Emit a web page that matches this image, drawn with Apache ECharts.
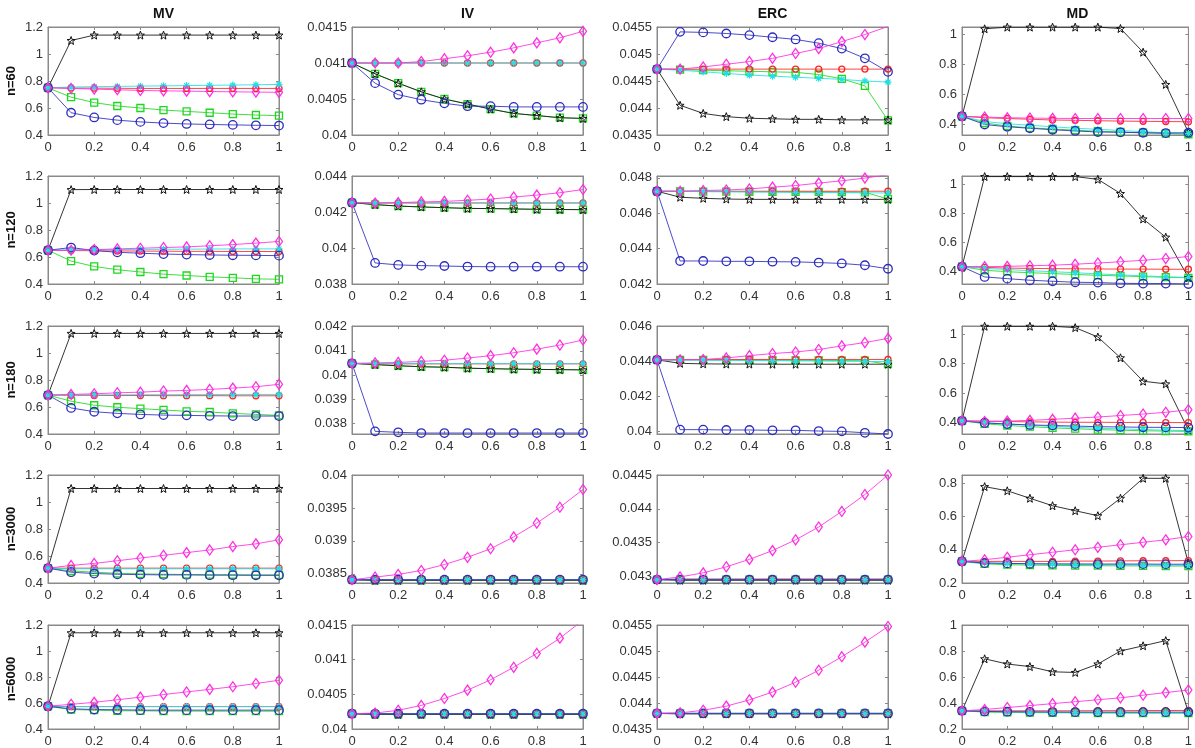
<!DOCTYPE html>
<html><head><meta charset="utf-8">
<script src="https://cdn.jsdelivr.net/npm/echarts@6/dist/echarts.min.js"></script>
<style>html,body{margin:0;padding:0;background:#fff}#c{width:1195px;height:748px}</style>
</head><body><div id="c"></div>
<script>
// ---------- categories ----------
const colNames = ['MV', 'IV', 'ERC', 'MD'];
const rowNames = ['n=60', 'n=120', 'n=180', 'n=3000', 'n=6000'];
const xVals = [0, 0.1, 0.2, 0.3, 0.4, 0.5, 0.6, 0.7, 0.8, 0.9, 1];
const xTicks = [0, 0.2, 0.4, 0.6, 0.8, 1];

// ---------- y ranges and tick labels per panel ----------
const MV_range = [0.4, 1.2];           const MV_ticks = [0.4, 0.6, 0.8, 1, 1.2];
const IV60_range = [0.04, 0.0415];      const IV60_ticks = [0.04, 0.0405, 0.041, 0.0415];
const IV120_range = [0.038, 0.044];     const IV120_ticks = [0.038, 0.04, 0.042, 0.044];
const IV180_range = [0.03755, 0.04203]; const IV180_ticks = [0.038, 0.039, 0.04, 0.041, 0.042];
const IV3000_range = [0.03836, 0.04];   const IV3000_ticks = [0.0385, 0.039, 0.0395, 0.04];
const IV6000_range = [0.04, 0.0415];    const IV6000_ticks = [0.04, 0.0405, 0.041, 0.0415];
const ERC60_range = [0.0435, 0.0455];   const ERC60_ticks = [0.0435, 0.044, 0.0445, 0.045, 0.0455];
const ERC120_range = [0.042, 0.0481];   const ERC120_ticks = [0.042, 0.044, 0.046, 0.048];
const ERC180_range = [0.03985, 0.04604];const ERC180_ticks = [0.04, 0.042, 0.044, 0.046];
const ERC3000_range = [0.0429, 0.0445]; const ERC3000_ticks = [0.043, 0.0435, 0.044, 0.0445];
const ERC6000_range = [0.0435, 0.0455]; const ERC6000_ticks = [0.0435, 0.044, 0.0445, 0.045, 0.0455];
const MD60_range = [0.33, 1.05];        const MD60_ticks = [0.4, 0.6, 0.8, 1];
const MD120_range = [0.31, 1.057];      const MD120_ticks = [0.4, 0.6, 0.8, 1];
const MD180_range = [0.32, 1.057];      const MD180_ticks = [0.4, 0.6, 0.8, 1];
const MD3000_range = [0.2, 0.85];       const MD3000_ticks = [0.2, 0.4, 0.6, 0.8];
const MD6000_range = [0.2, 1.0];        const MD6000_ticks = [0.2, 0.4, 0.6, 0.8, 1];

// ---------- series values (star, blue, green, red, magenta, cyan) ----------
const MV60 = {
  star: [0.75, 1.10, 1.14, 1.14, 1.14, 1.14, 1.14, 1.14, 1.14, 1.14, 1.14],
  blue: [0.75, 0.565, 0.53, 0.51, 0.497, 0.488, 0.482, 0.478, 0.475, 0.472, 0.47],
  green: [0.75, 0.68, 0.64, 0.615, 0.60, 0.585, 0.575, 0.565, 0.555, 0.548, 0.543],
  red: [0.75, 0.748, 0.747, 0.746, 0.745, 0.745, 0.745, 0.745, 0.745, 0.745, 0.745],
  magenta: [0.75, 0.745, 0.74, 0.735, 0.73, 0.727, 0.725, 0.722, 0.72, 0.718, 0.716],
  cyan: [0.75, 0.755, 0.758, 0.76, 0.762, 0.764, 0.766, 0.768, 0.77, 0.772, 0.775]
};
const IV60 = {
  star: [0.041, 0.04085, 0.04072, 0.0406, 0.0405, 0.04043, 0.04036, 0.0403, 0.04027, 0.04024, 0.04023],
  blue: [0.041, 0.04072, 0.04056, 0.04049, 0.04044, 0.0404, 0.0404, 0.04039, 0.04039, 0.04039, 0.04039],
  green: [0.041, 0.04085, 0.04072, 0.0406, 0.0405, 0.04043, 0.04036, 0.0403, 0.04027, 0.04024, 0.04023],
  red: [0.041, 0.041, 0.041, 0.041, 0.041, 0.041, 0.041, 0.041, 0.041, 0.041, 0.041],
  magenta: [0.041, 0.041, 0.041, 0.04102, 0.04106, 0.0411, 0.04115, 0.04121, 0.04128, 0.04135, 0.04144],
  cyan: [0.041, 0.041, 0.041, 0.041, 0.041, 0.041, 0.041, 0.041, 0.041, 0.041, 0.041]
};
const ERC60 = {
  star: [0.04472, 0.04405, 0.0439, 0.04384, 0.04381, 0.0438, 0.04379, 0.04379, 0.04378, 0.04378, 0.04378],
  blue: [0.04472, 0.04541, 0.0454, 0.04538, 0.04535, 0.04531, 0.04527, 0.0452, 0.0451, 0.04492, 0.04467],
  green: [0.04472, 0.04471, 0.0447, 0.04469, 0.04468, 0.04467, 0.04466, 0.04462, 0.04454, 0.04441, 0.04377],
  red: [0.04472, 0.04472, 0.04472, 0.04472, 0.04472, 0.04472, 0.04472, 0.04472, 0.04472, 0.04472, 0.04472],
  magenta: [0.04472, 0.04472, 0.04476, 0.04481, 0.04486, 0.04492, 0.04501, 0.0451, 0.04523, 0.04536, 0.04551],
  cyan: [0.04472, 0.0447, 0.04467, 0.04464, 0.04461, 0.04459, 0.04457, 0.04455, 0.04453, 0.0445, 0.04448]
};
const MD60 = {
  star: [0.455, 1.038, 1.049, 1.049, 1.049, 1.049, 1.049, 1.04, 0.882, 0.667, 0.349],
  blue: [0.455, 0.40, 0.385, 0.375, 0.365, 0.357, 0.35, 0.348, 0.345, 0.343, 0.345],
  green: [0.455, 0.41, 0.39, 0.378, 0.37, 0.362, 0.355, 0.35, 0.345, 0.34, 0.335],
  red: [0.455, 0.445, 0.44, 0.435, 0.43, 0.428, 0.425, 0.423, 0.421, 0.42, 0.418],
  magenta: [0.455, 0.45, 0.445, 0.443, 0.441, 0.44, 0.44, 0.44, 0.44, 0.44, 0.44],
  cyan: [0.455, 0.42, 0.405, 0.395, 0.385, 0.375, 0.368, 0.36, 0.352, 0.345, 0.34]
};
const MV120 = {
  star: [0.65, 1.099, 1.1, 1.1, 1.1, 1.1, 1.1, 1.1, 1.1, 1.1, 1.1],
  blue: [0.65, 0.67, 0.648, 0.635, 0.628, 0.622, 0.618, 0.615, 0.613, 0.612, 0.61],
  green: [0.65, 0.57, 0.53, 0.506, 0.489, 0.473, 0.463, 0.453, 0.446, 0.438, 0.435],
  red: [0.65, 0.648, 0.646, 0.645, 0.644, 0.643, 0.642, 0.642, 0.641, 0.641, 0.64],
  magenta: [0.65, 0.65, 0.655, 0.66, 0.665, 0.67, 0.675, 0.683, 0.692, 0.703, 0.715],
  cyan: [0.65, 0.652, 0.654, 0.655, 0.656, 0.657, 0.658, 0.659, 0.66, 0.66, 0.66]
};
const IV120 = {
  star: [0.04252, 0.04241, 0.04233, 0.04228, 0.04224, 0.0422, 0.04219, 0.04217, 0.04215, 0.04214, 0.04213],
  blue: [0.04252, 0.03917, 0.03906, 0.03902, 0.039, 0.03897, 0.03896, 0.03896, 0.03896, 0.03896, 0.03896],
  green: [0.04252, 0.04241, 0.04233, 0.04228, 0.04224, 0.0422, 0.04219, 0.04217, 0.04215, 0.04214, 0.04213],
  red: [0.04252, 0.0425, 0.0425, 0.0425, 0.0425, 0.0425, 0.0425, 0.0425, 0.0425, 0.0425, 0.0425],
  magenta: [0.04252, 0.0425, 0.04252, 0.04256, 0.04259, 0.04265, 0.04272, 0.04283, 0.04294, 0.04307, 0.04325],
  cyan: [0.04252, 0.04251, 0.04251, 0.04251, 0.04251, 0.04251, 0.04251, 0.04251, 0.04251, 0.04251, 0.04251]
};
const ERC120 = {
  star: [0.04724, 0.0469, 0.04684, 0.0468, 0.04678, 0.04678, 0.04678, 0.04678, 0.04678, 0.04678, 0.04678],
  blue: [0.04724, 0.0433, 0.0433, 0.04328, 0.04328, 0.04326, 0.04325, 0.04321, 0.04316, 0.04306, 0.04286],
  green: [0.04724, 0.04723, 0.04722, 0.04722, 0.04721, 0.04721, 0.0472, 0.0472, 0.04719, 0.04718, 0.0468],
  red: [0.04724, 0.04724, 0.04724, 0.04724, 0.04724, 0.04724, 0.04724, 0.04724, 0.04724, 0.04724, 0.04724],
  magenta: [0.04724, 0.04724, 0.04728, 0.04731, 0.04737, 0.04747, 0.04756, 0.0477, 0.04783, 0.04798, 0.04817],
  cyan: [0.04724, 0.04723, 0.04722, 0.04721, 0.0472, 0.04719, 0.04718, 0.04717, 0.04716, 0.04715, 0.04714]
};
const MD120 = {
  star: [0.43, 1.053, 1.053, 1.053, 1.053, 1.053, 1.034, 0.936, 0.76, 0.634, 0.354],
  blue: [0.43, 0.359, 0.347, 0.336, 0.329, 0.322, 0.32, 0.315, 0.313, 0.313, 0.31],
  green: [0.43, 0.405, 0.395, 0.388, 0.382, 0.376, 0.37, 0.366, 0.361, 0.357, 0.353],
  red: [0.43, 0.425, 0.42, 0.418, 0.416, 0.415, 0.414, 0.413, 0.413, 0.412, 0.412],
  magenta: [0.43, 0.43, 0.432, 0.436, 0.44, 0.447, 0.455, 0.464, 0.474, 0.486, 0.5],
  cyan: [0.43, 0.418, 0.41, 0.402, 0.395, 0.388, 0.38, 0.373, 0.366, 0.36, 0.355]
};
const MV180 = {
  star: [0.688, 1.145, 1.145, 1.145, 1.145, 1.145, 1.145, 1.145, 1.145, 1.145, 1.145],
  blue: [0.688, 0.593, 0.565, 0.553, 0.545, 0.54, 0.538, 0.535, 0.533, 0.533, 0.533],
  green: [0.688, 0.643, 0.613, 0.598, 0.588, 0.578, 0.568, 0.563, 0.553, 0.545, 0.538],
  red: [0.688, 0.687, 0.686, 0.685, 0.685, 0.684, 0.684, 0.684, 0.683, 0.683, 0.683],
  magenta: [0.688, 0.693, 0.698, 0.705, 0.71, 0.718, 0.723, 0.73, 0.74, 0.75, 0.768],
  cyan: [0.688, 0.689, 0.69, 0.69, 0.691, 0.691, 0.692, 0.692, 0.693, 0.693, 0.693]
};
const IV180 = {
  star: [0.04048, 0.04043, 0.04038, 0.04034, 0.04032, 0.04028, 0.04026, 0.04024, 0.04023, 0.04022, 0.04021],
  blue: [0.04048, 0.03766, 0.03762, 0.03759, 0.03759, 0.03759, 0.03759, 0.03759, 0.03759, 0.03759, 0.03759],
  green: [0.04048, 0.04043, 0.04038, 0.04034, 0.04032, 0.04028, 0.04026, 0.04024, 0.04023, 0.04022, 0.04021],
  red: [0.04048, 0.04046, 0.04046, 0.04046, 0.04046, 0.04046, 0.04046, 0.04046, 0.04046, 0.04046, 0.04046],
  magenta: [0.04048, 0.0405, 0.04052, 0.04056, 0.04061, 0.0407, 0.0408, 0.04092, 0.04107, 0.04124, 0.04145],
  cyan: [0.04048, 0.04047, 0.04047, 0.04047, 0.04047, 0.04047, 0.04047, 0.04047, 0.04047, 0.04047, 0.04047]
};
const ERC180 = {
  star: [0.0441, 0.0439, 0.04387, 0.04386, 0.04386, 0.04385, 0.04385, 0.04385, 0.04385, 0.04385, 0.04385],
  blue: [0.0441, 0.0401, 0.0401, 0.04008, 0.04008, 0.04006, 0.04006, 0.04002, 0.04, 0.03992, 0.03985],
  green: [0.0441, 0.0441, 0.04409, 0.04409, 0.04408, 0.04408, 0.04407, 0.04407, 0.04406, 0.04405, 0.04385],
  red: [0.0441, 0.04412, 0.04412, 0.04412, 0.04412, 0.04412, 0.04412, 0.04412, 0.04412, 0.04412, 0.04412],
  magenta: [0.0441, 0.0441, 0.04412, 0.04421, 0.04434, 0.04446, 0.04455, 0.04469, 0.0449, 0.04509, 0.04533],
  cyan: [0.0441, 0.04409, 0.04408, 0.04407, 0.04406, 0.04405, 0.04404, 0.04403, 0.04402, 0.04401, 0.044]
};
const MD180 = {
  star: [0.41, 1.055, 1.055, 1.055, 1.055, 1.046, 0.982, 0.84, 0.68, 0.662, 0.347],
  blue: [0.41, 0.395, 0.388, 0.382, 0.378, 0.374, 0.37, 0.368, 0.366, 0.365, 0.364],
  green: [0.41, 0.39, 0.378, 0.37, 0.362, 0.356, 0.35, 0.346, 0.342, 0.34, 0.338],
  red: [0.41, 0.408, 0.405, 0.403, 0.401, 0.4, 0.4, 0.399, 0.399, 0.398, 0.398],
  magenta: [0.41, 0.405, 0.408, 0.413, 0.42, 0.428, 0.436, 0.446, 0.456, 0.468, 0.485],
  cyan: [0.41, 0.398, 0.388, 0.38, 0.372, 0.365, 0.36, 0.355, 0.35, 0.346, 0.343]
};
const MV3000 = {
  star: [0.51, 1.1, 1.1, 1.1, 1.1, 1.1, 1.1, 1.1, 1.1, 1.1, 1.1],
  blue: [0.51, 0.48, 0.47, 0.465, 0.462, 0.46, 0.46, 0.458, 0.458, 0.457, 0.457],
  green: [0.51, 0.49, 0.48, 0.472, 0.468, 0.465, 0.463, 0.462, 0.461, 0.46, 0.46],
  red: [0.51, 0.51, 0.51, 0.51, 0.51, 0.51, 0.51, 0.51, 0.51, 0.51, 0.51],
  magenta: [0.51, 0.53, 0.545, 0.565, 0.585, 0.605, 0.625, 0.645, 0.67, 0.69, 0.72],
  cyan: [0.51, 0.505, 0.505, 0.505, 0.505, 0.505, 0.505, 0.505, 0.505, 0.505, 0.505]
};
const IV3000 = {
  star: [0.03841, 0.0384, 0.0384, 0.0384, 0.0384, 0.0384, 0.0384, 0.0384, 0.0384, 0.0384, 0.0384],
  blue: [0.03841, 0.03841, 0.03841, 0.03841, 0.03841, 0.03841, 0.03841, 0.03841, 0.03841, 0.03841, 0.03841],
  green: [0.03841, 0.0384, 0.0384, 0.0384, 0.0384, 0.0384, 0.0384, 0.0384, 0.0384, 0.0384, 0.0384],
  red: [0.03841, 0.03841, 0.03841, 0.03841, 0.03841, 0.03841, 0.03841, 0.03841, 0.03841, 0.03841, 0.03841],
  magenta: [0.03841, 0.03845, 0.03849, 0.03855, 0.03864, 0.03875, 0.03888, 0.03906, 0.03927, 0.03951, 0.03978],
  cyan: [0.03841, 0.03841, 0.03841, 0.03841, 0.03841, 0.03841, 0.03841, 0.03841, 0.03841, 0.03841, 0.03841]
};
const ERC3000 = {
  star: [0.04295, 0.04294, 0.04294, 0.04294, 0.04294, 0.04294, 0.04294, 0.04294, 0.04294, 0.04294, 0.04294],
  blue: [0.04295, 0.04295, 0.04295, 0.04295, 0.04295, 0.04295, 0.04295, 0.04295, 0.04295, 0.04295, 0.04295],
  green: [0.04295, 0.04295, 0.04295, 0.04295, 0.04295, 0.04295, 0.04295, 0.04295, 0.04295, 0.04295, 0.04295],
  red: [0.04295, 0.04296, 0.04296, 0.04296, 0.04296, 0.04296, 0.04296, 0.04296, 0.04296, 0.04296, 0.04296],
  magenta: [0.04295, 0.04299, 0.04305, 0.04314, 0.04325, 0.04338, 0.04354, 0.04373, 0.04396, 0.04421, 0.0445],
  cyan: [0.04295, 0.04295, 0.04295, 0.04295, 0.04295, 0.04295, 0.04295, 0.04295, 0.04295, 0.04295, 0.04295]
};
const MD3000 = {
  star: [0.33, 0.78, 0.755, 0.71, 0.665, 0.635, 0.605, 0.71, 0.83, 0.83, 0.32],
  blue: [0.33, 0.32, 0.318, 0.316, 0.315, 0.315, 0.314, 0.314, 0.314, 0.313, 0.313],
  green: [0.33, 0.315, 0.31, 0.308, 0.306, 0.305, 0.304, 0.303, 0.303, 0.302, 0.302],
  red: [0.33, 0.33, 0.33, 0.33, 0.33, 0.332, 0.332, 0.333, 0.334, 0.334, 0.335],
  magenta: [0.33, 0.34, 0.355, 0.37, 0.385, 0.4, 0.415, 0.43, 0.445, 0.46, 0.48],
  cyan: [0.33, 0.322, 0.318, 0.315, 0.313, 0.311, 0.31, 0.309, 0.308, 0.307, 0.306]
};
const MV6000 = {
  star: [0.575, 1.14, 1.14, 1.14, 1.14, 1.14, 1.14, 1.14, 1.14, 1.14, 1.14],
  blue: [0.575, 0.555, 0.55, 0.548, 0.545, 0.545, 0.545, 0.545, 0.545, 0.545, 0.545],
  green: [0.575, 0.55, 0.545, 0.54, 0.54, 0.538, 0.538, 0.537, 0.537, 0.537, 0.537],
  red: [0.575, 0.572, 0.572, 0.572, 0.572, 0.572, 0.572, 0.572, 0.572, 0.572, 0.572],
  magenta: [0.575, 0.59, 0.605, 0.625, 0.645, 0.665, 0.685, 0.705, 0.725, 0.75, 0.775],
  cyan: [0.575, 0.573, 0.573, 0.573, 0.573, 0.573, 0.573, 0.573, 0.573, 0.573, 0.573]
};
const IV6000 = {
  star: [0.04022, 0.04021, 0.04021, 0.04021, 0.04021, 0.04021, 0.04021, 0.04021, 0.04021, 0.04021, 0.04021],
  blue: [0.04022, 0.04022, 0.04022, 0.04022, 0.04022, 0.04022, 0.04022, 0.04022, 0.04022, 0.04022, 0.04022],
  green: [0.04022, 0.04021, 0.04021, 0.04021, 0.04021, 0.04021, 0.04021, 0.04021, 0.04021, 0.04021, 0.04021],
  red: [0.04022, 0.04022, 0.04022, 0.04022, 0.04022, 0.04022, 0.04022, 0.04022, 0.04022, 0.04022, 0.04022],
  magenta: [0.04022, 0.04023, 0.04027, 0.04034, 0.04044, 0.04056, 0.04071, 0.04089, 0.04109, 0.04131, 0.04157],
  cyan: [0.04022, 0.04022, 0.04022, 0.04022, 0.04022, 0.04022, 0.04022, 0.04022, 0.04022, 0.04022, 0.04022]
};
const ERC6000 = {
  star: [0.0438, 0.04379, 0.04379, 0.04379, 0.04379, 0.04379, 0.04379, 0.04379, 0.04379, 0.04379, 0.04379],
  blue: [0.0438, 0.0438, 0.0438, 0.0438, 0.0438, 0.0438, 0.0438, 0.0438, 0.0438, 0.0438, 0.0438],
  green: [0.0438, 0.0438, 0.0438, 0.0438, 0.0438, 0.0438, 0.0438, 0.0438, 0.0438, 0.0438, 0.0438],
  red: [0.0438, 0.0438, 0.0438, 0.0438, 0.0438, 0.0438, 0.0438, 0.0438, 0.0438, 0.0438, 0.0438],
  magenta: [0.0438, 0.04381, 0.04386, 0.04394, 0.04406, 0.04421, 0.0444, 0.04463, 0.04489, 0.04517, 0.04547],
  cyan: [0.0438, 0.0438, 0.0438, 0.0438, 0.0438, 0.0438, 0.0438, 0.0438, 0.0438, 0.0438, 0.0438]
};
const MD6000 = {
  star: [0.34, 0.74, 0.7, 0.68, 0.64, 0.635, 0.7, 0.8, 0.84, 0.88, 0.33],
  blue: [0.34, 0.335, 0.333, 0.332, 0.331, 0.33, 0.33, 0.33, 0.33, 0.33, 0.33],
  green: [0.34, 0.33, 0.328, 0.326, 0.325, 0.324, 0.323, 0.323, 0.322, 0.322, 0.322],
  red: [0.34, 0.34, 0.34, 0.34, 0.34, 0.34, 0.341, 0.341, 0.342, 0.342, 0.343],
  magenta: [0.34, 0.35, 0.365, 0.38, 0.395, 0.41, 0.425, 0.44, 0.46, 0.48, 0.5],
  cyan: [0.34, 0.335, 0.332, 0.33, 0.328, 0.327, 0.326, 0.325, 0.325, 0.324, 0.324]
};

// ---------- layout of the panel matrix ----------
const panels = [
  [[MV60, MV_range, MV_ticks], [IV60, IV60_range, IV60_ticks], [ERC60, ERC60_range, ERC60_ticks], [MD60, MD60_range, MD60_ticks]],
  [[MV120, MV_range, MV_ticks], [IV120, IV120_range, IV120_ticks], [ERC120, ERC120_range, ERC120_ticks], [MD120, MD120_range, MD120_ticks]],
  [[MV180, MV_range, MV_ticks], [IV180, IV180_range, IV180_ticks], [ERC180, ERC180_range, ERC180_ticks], [MD180, MD180_range, MD180_ticks]],
  [[MV3000, MV_range, MV_ticks], [IV3000, IV3000_range, IV3000_ticks], [ERC3000, ERC3000_range, ERC3000_ticks], [MD3000, MD3000_range, MD3000_ticks]],
  [[MV6000, MV_range, MV_ticks], [IV6000, IV6000_range, IV6000_ticks], [ERC6000, ERC6000_range, ERC6000_ticks], [MD6000, MD6000_range, MD6000_ticks]]
];

const colLeft = [48, 352, 657, 962];
const rowTop = [27, 176, 326, 475, 625];
const W = 231, H = 108;

function starPath() {
  const p = [];
  for (let i = 0; i < 10; i++) {
    const r = i % 2 ? 0.42 : 1;
    const a = -Math.PI / 2 + i * Math.PI / 5;
    p.push((r * Math.cos(a)).toFixed(3) + ',' + (r * Math.sin(a)).toFixed(3));
  }
  return 'path://M' + p.join('L') + 'Z';
}
const STAR = starPath();
const ASTER = 'path://M0,-1L0,1M-1,0L1,0M-0.7,-0.7L0.7,0.7M-0.7,0.7L0.7,-0.7';

const styles = [
  { key: 'green', color: '#1ed81e', symbol: 'rect', size: 7, bw: 1.3 },
  { key: 'star', color: '#111111', symbol: STAR, size: 8, bw: 1.0 },
  { key: 'red', color: '#ff2222', symbol: 'circle', size: 6, bw: 1.3 },
  { key: 'cyan', color: '#1ee0e6', symbol: ASTER, size: 7, bw: 1.2 },
  { key: 'blue', color: '#2b2bbf', symbol: 'circle', size: 8.5, bw: 1.3 },
  { key: 'magenta', color: '#ff2ee0', symbol: 'diamond', size: [7, 10], bw: 1.3 }
];

const FONT = 'Liberation Sans, Arial, Helvetica, sans-serif';
const axisCol = '#8a8a8a';
const fmt = v => String(+(+v).toPrecision(6));

const grid = [], xAxis = [], yAxis = [], series = [], graphic = [];
let g = 0;
for (let r = 0; r < 5; r++) {
  for (let c = 0; c < 4; c++) {
    const [data, range, ticks] = panels[r][c];
    grid.push({ left: colLeft[c], top: rowTop[r], width: W, height: H, show: true, borderColor: axisCol, borderWidth: 1, backgroundColor: '#fff' });
    const xBase = { type: 'value', gridIndex: g, min: 0, max: 1, interval: 0.2,
      axisLine: { show: true, onZero: false, lineStyle: { color: axisCol, width: 1 } },
      axisTick: { show: true, inside: true, length: 3, customValues: xTicks, lineStyle: { color: axisCol } },
      splitLine: { show: false } };
    xAxis.push(Object.assign({}, xBase, { position: 'bottom',
      axisLabel: { show: true, customValues: xTicks, fontFamily: FONT, fontSize: 13, color: '#333', margin: 6, formatter: fmt } }));
    xAxis.push(Object.assign({}, xBase, { position: 'top', axisLabel: { show: false } }));
    const yBase = { type: 'value', gridIndex: g, min: range[0], max: range[1], scale: true,
      axisLine: { show: true, onZero: false, lineStyle: { color: axisCol, width: 1 } },
      axisTick: { show: true, inside: true, length: 3, customValues: ticks, lineStyle: { color: axisCol } },
      splitLine: { show: false } };
    yAxis.push(Object.assign({}, yBase, { position: 'left',
      axisLabel: { show: true, customValues: ticks, fontFamily: FONT, fontSize: 13, color: '#333', margin: 5, formatter: fmt } }));
    yAxis.push(Object.assign({}, yBase, { position: 'right', axisLabel: { show: false } }));
    styles.forEach(s => {
      series.push({
        type: 'line', xAxisIndex: 2 * g, yAxisIndex: 2 * g,
        data: xVals.map((x, i) => [x, data[s.key][i]]),
        symbol: s.symbol, symbolSize: s.size, showAllSymbol: true, clip: true,
        lineStyle: { color: s.color, width: 1, opacity: 0.85 },
        itemStyle: { color: 'rgba(255,255,255,0)', borderColor: s.color, borderWidth: s.bw },
        emphasis: { disabled: true }, silent: true, animation: false
      });
    });
    g++;
  }
}
colNames.forEach((n, c) => {
  graphic.push({ type: 'text', x: colLeft[c] + W / 2, y: 14,
    style: { text: n, font: 'bold 14px ' + FONT, fill: '#111', textAlign: 'center', textVerticalAlign: 'middle' } });
});
rowNames.forEach((n, r) => {
  graphic.push({ type: 'text', x: 11, y: rowTop[r] + H / 2, rotation: Math.PI / 2,
    style: { text: n, font: 'bold 13px ' + FONT, fill: '#111', textAlign: 'center', textVerticalAlign: 'middle' } });
});

const chart = echarts.init(document.getElementById('c'), null, { renderer: 'canvas' });
chart.setOption({ animation: false, backgroundColor: '#fff', grid, xAxis, yAxis, series, graphic });
</script></body></html>
